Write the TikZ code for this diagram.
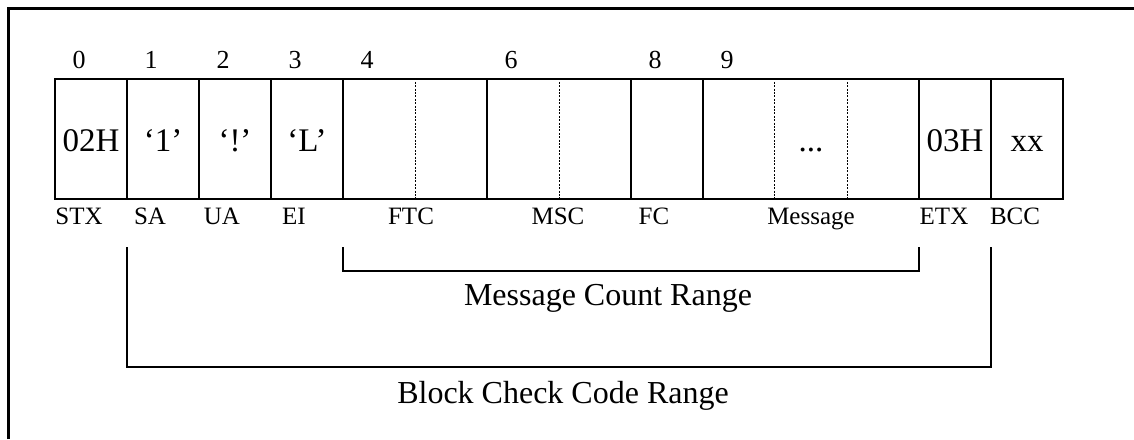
\documentclass[tikz,border=0pt]{standalone}
\usepackage{fontspec}
\setmainfont{Liberation Serif}
\usetikzlibrary{ calc,        % For points between the anchors of a field
                 positioning, % For easy node-relative placements
               }
\tikzstyle{field} = [rectangle, draw=black, line width=0.65pt, minimum height=60pt, inner sep=0pt, text height=12pt, text depth=0pt, font=\fontsize{16.5}{18}\selectfont]
\tikzstyle{byteidx} = [anchor=base, font=\fontsize{13}{15}\selectfont]
\tikzstyle{fieldname} = [anchor=base, font=\fontsize{12.5}{14}\selectfont]
\tikzstyle{rangetext} = [anchor=base, font=\fontsize{16}{18}\selectfont]
\tikzstyle{splitline} = [line width=0.45pt, dash pattern=on 1pt off 0.7pt]
\tikzstyle{bracket} = [line width=0.7pt]
\tikzstyle{outerframe} = [line width=1.5pt]

\begin{document}
\begin{tikzpicture}[x=0.5pt, y=-0.5pt]
  \useasboundingbox (0,0) rectangle (1134,439);
  \draw [outerframe] (8.5,439) |- (1134,8.5);

  \node (stx) [field, minimum width=36pt] at (91, 139) {02H};
  \node (sa) [field, minimum width=36pt] at (163, 139) {`1'};
  \node (ua) [field, minimum width=36pt] at (235, 139) {`!'};
  \node (ei) [field, minimum width=36pt] at (307, 139) {`L'};
  \node (ftc) [field, minimum width=72pt] at (415, 139) {};
  \node (msc) [field, minimum width=72pt] at (559, 139) {};
  \node (fc) [field, minimum width=36pt] at (667, 139) {};
  \node (msg) [field, minimum width=108pt] at (811, 139) {...};
  \node (etx) [field, minimum width=36pt] at (955, 139) {03H};
  \node (bcc) [field, minimum width=36pt] at (1027, 139) {xx};

  \draw [splitline] (ftc.north) -- (ftc.south);
  \draw [splitline] (msc.north) -- (msc.south);
  \draw [splitline] ($(msg.north west)!1/3!(msg.north east)$) -- ($(msg.south west)!1/3!(msg.south east)$);
  \draw [splitline] ($(msg.north west)!2/3!(msg.north east)$) -- ($(msg.south west)!2/3!(msg.south east)$);

  \node (i0) [byteidx] at (79, 68) {0};
  \node (i1) [byteidx] at (151, 68) {1};
  \node (i2) [byteidx] at (223, 68) {2};
  \node (i3) [byteidx] at (295, 68) {3};
  \node (i4) [byteidx] at (367, 68) {4};
  \node (i6) [byteidx] at (511, 68) {6};
  \node (i8) [byteidx] at (655, 68) {8};
  \node (i9) [byteidx] at (727, 68) {9};

  \node (nstx) [fieldname] at (79, 224) {STX};
  \node (nsa) [fieldname] at (150, 224) {SA};
  \node (nua) [fieldname] at (222, 224) {UA};
  \node (nei) [fieldname] at (294, 224) {EI};
  \node (nftc) [fieldname] at (411, 224) {FTC};
  \node (nmsc) [fieldname] at (558, 224) {MSC};
  \node (nfc) [fieldname] at (654, 224) {FC};
  \node (nmsg) [fieldname] at (811, 224) {Message};
  \node (netx) [fieldname] at (944, 224) {ETX};
  \node (nbcc) [fieldname] at (1015, 224) {BCC};

  \coordinate (mc1) at (343, 247);
  \coordinate (mc2) at (919, 247);
  \draw [bracket] (mc1) -- ++(0, 24) -| (mc2);
  \node (mcr) [rangetext] at (608, 305) {Message Count Range};

  \coordinate (bc1) at (127, 247);
  \coordinate (bc2) at (991, 247);
  \draw [bracket] (bc1) -- ++(0, 120) -| (bc2);
  \node (bcr) [rangetext] at (563, 403) {Block Check Code Range};
\end{tikzpicture}
\end{document}
